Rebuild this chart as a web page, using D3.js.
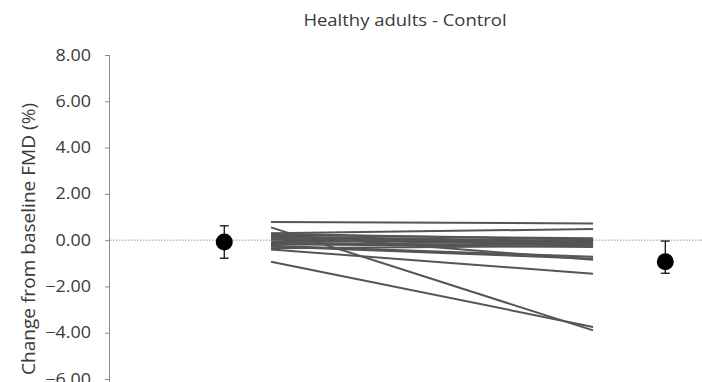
<!DOCTYPE html>
<html>
<head>
<meta charset="utf-8">
<script src="https://cdn.jsdelivr.net/npm/d3@7"></script>
<style>
  html, body { margin: 0; padding: 0; background: #fff; }
  svg { display: block; }
  text { font-family: "Open Sans", "Noto Sans", sans-serif; }
</style>
</head>
<body>
<svg id="chart" width="702" height="382"></svg>
<script>
// Individual participants: change from baseline FMD (%) at the two time points
const preValues  = [0.78, 0.55, -0.93, 0.30, 0.22, 0.12, 0.02, -0.08, -0.18, -0.28, -0.40, 0.25, -0.35, 0.06, 0.16, -0.24, -0.12, 0.28];
const postValues = [0.72, -3.90, -3.75, 0.48, 0.08, -0.10, -0.20, 0.00, -0.30, -0.80, -1.45, -0.85, -0.25, -0.15, -0.05, -0.72, -0.22, 0.02];

// Group means with error bars
const meanLabels = ["Pre", "Post"];
const meanValues = [-0.08, -0.93];
const errUpper   = [0.62, -0.04];
const errLower   = [-0.78, -1.43];

const yTicks = [8, 6, 4, 2, 0, -2, -4, -6];
const titleText = "Healthy adults - Control";
const yTitle = "Change from baseline FMD (%)";

const svg = d3.select("#chart");
const textColor = "#3a3a3a";

const y = d3.scaleLinear().domain([-6, 8]).range([379, 55]);
const x = d3.scaleLinear().domain([0, 10]).range([110, 702]);

// horizontal position (in x-domain units) of each column
const meanX = [1.93, 9.38];
const lineX = [2.72, 8.16];

// title (slightly widened lettering)
svg.append("text")
  .attr("transform", "translate(405,26) scale(1.12,1)")
  .attr("text-anchor", "middle")
  .attr("font-size", 16.5)
  .attr("fill", textColor)
  .text(titleText);

// y-axis title
svg.append("text")
  .attr("transform", "translate(35,239) rotate(-90) scale(1.06,1)")
  .attr("text-anchor", "middle")
  .attr("font-size", 18)
  .attr("fill", textColor)
  .text(yTitle);

// dotted zero reference line
svg.append("line")
  .attr("x1", x(0)).attr("x2", 702)
  .attr("y1", y(0)).attr("y2", y(0))
  .attr("stroke", "#999")
  .attr("stroke-width", 1)
  .attr("stroke-dasharray", "1.5,1.5");

// y axis
const yAxis = d3.axisLeft(y)
  .tickValues(yTicks)
  .tickFormat(d3.format(".2f"))
  .tickSize(5);

const gAxis = svg.append("g")
  .attr("transform", `translate(${x(0)},0)`)
  .call(yAxis);
gAxis.select(".domain")
  .attr("d", `M-0.5,${y(8)}V382`)
  .attr("stroke", "#8c8c8c");
gAxis.selectAll(".tick line").attr("stroke", "#8c8c8c");
const labelScale = 1.12;
gAxis.selectAll(".tick text")
  .attr("x", -19 / labelScale)
  .attr("transform", `scale(${labelScale},1)`)
  .attr("font-size", 16)
  .attr("fill", textColor)
  .style("font-family", '"Open Sans", "Noto Sans", sans-serif');

// individual lines
svg.append("g").selectAll("line")
  .data(preValues.map((v, i) => [v, postValues[i]]))
  .join("line")
  .attr("x1", x(lineX[0])).attr("x2", x(lineX[1]))
  .attr("y1", d => y(d[0])).attr("y2", d => y(d[1]))
  .attr("stroke", "#555")
  .attr("stroke-width", 2);

// error bars and mean markers
const gMeans = svg.append("g");
meanValues.forEach((m, i) => {
  const cx = x(meanX[i]);
  gMeans.append("line")
    .attr("x1", cx).attr("x2", cx)
    .attr("y1", y(errUpper[i])).attr("y2", y(errLower[i]))
    .attr("stroke", "#000").attr("stroke-width", 1.2);
  [errUpper[i], errLower[i]].forEach(v => {
    gMeans.append("line")
      .attr("x1", cx - 4.5).attr("x2", cx + 4.5)
      .attr("y1", y(v)).attr("y2", y(v))
      .attr("stroke", "#000").attr("stroke-width", 1.2);
  });
  gMeans.append("circle")
    .attr("cx", cx).attr("cy", y(m))
    .attr("r", 8.5)
    .attr("fill", "#000");
});
</script>
</body>
</html>
